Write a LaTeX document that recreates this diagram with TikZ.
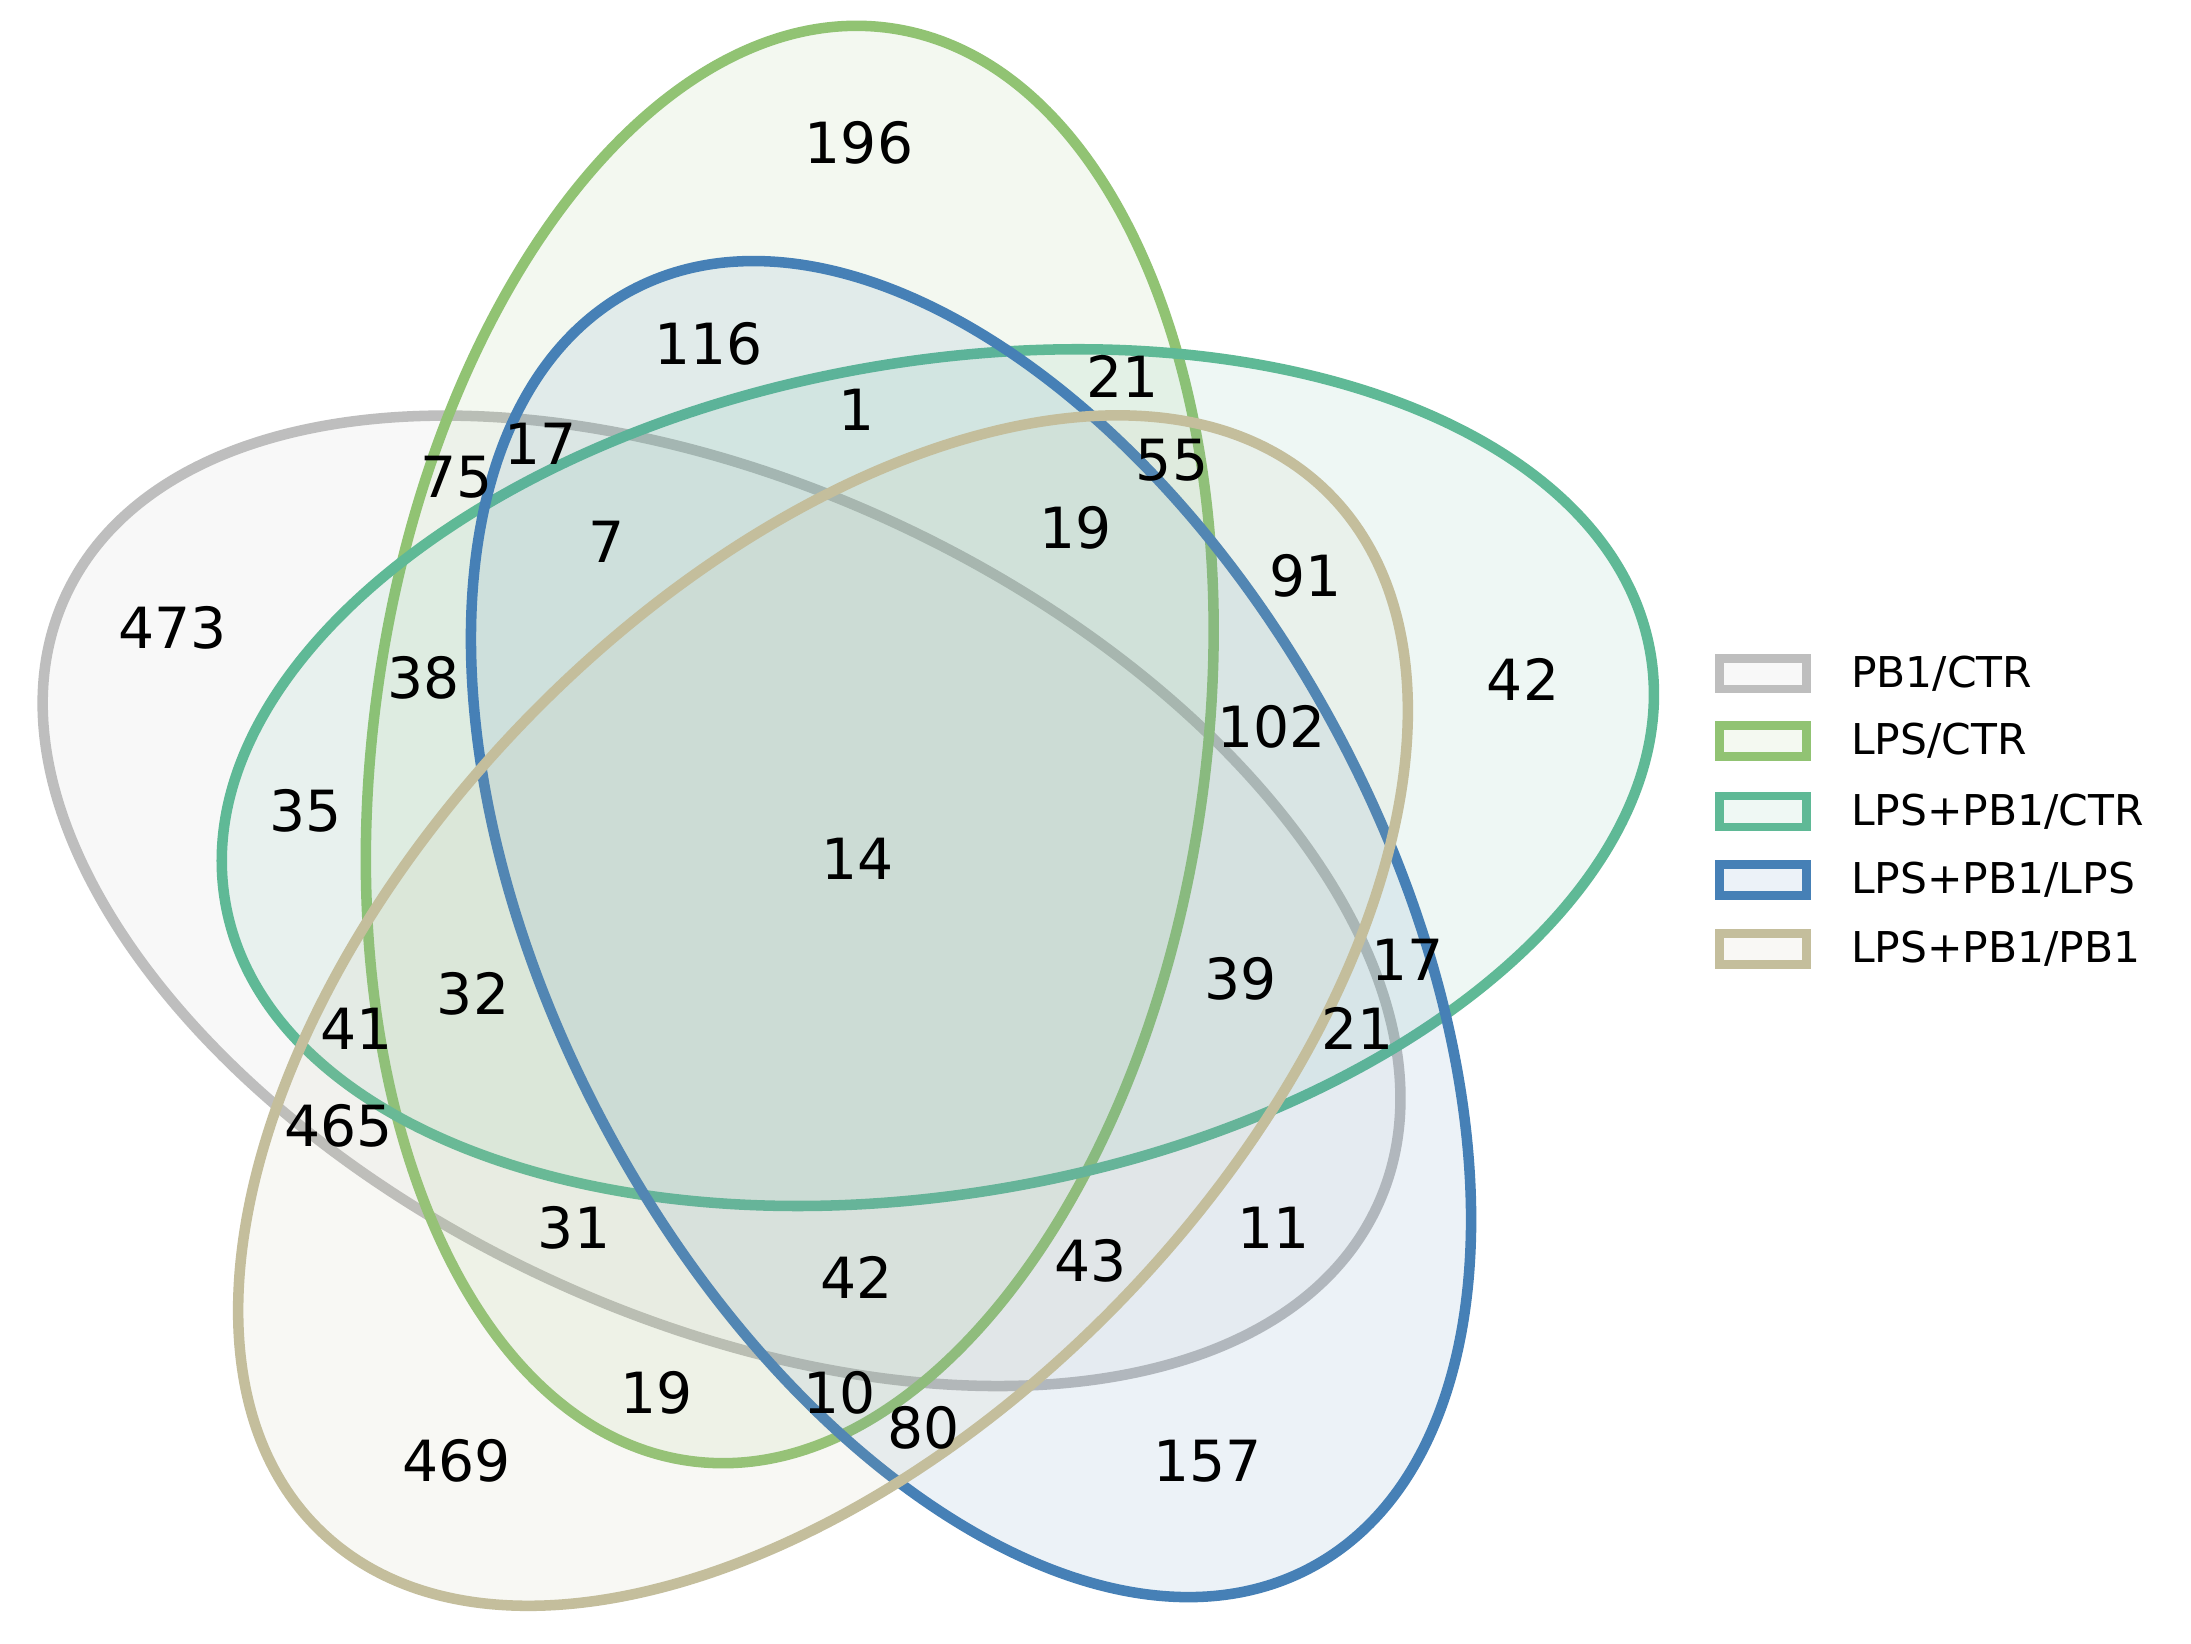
\documentclass[tikz,border=0pt]{standalone}
\usepackage{fontspec}
\setmainfont{DejaVu Sans}
\definecolor{cgray}{RGB}{190,190,190}
\definecolor{cgreen}{RGB}{145,195,115}
\definecolor{cteal}{RGB}{95,185,150}
\definecolor{cblue}{RGB}{70,128,182}
\definecolor{ctan}{RGB}{196,190,156}
\begin{document}
\begin{tikzpicture}[
  ell/.style={line width=0.075cm, fill opacity=0.1, draw opacity=1},
  num/.style={font=\fontsize{11.5}{13}\selectfont, inner sep=0pt},
  leg/.style={font=\fontsize{8.6}{10}\selectfont, anchor=west, inner sep=0pt},
  legbox/.style={line width=0.06cm, minimum width=0.62cm, minimum height=0.22cm, inner sep=0pt}]
\useasboundingbox (0,-11.7) rectangle (15.6,0);
\fill[white] (0,-11.7) rectangle (15.6,0);
\begin{scope}[shift={(0.07,-11.73)}, x=11.84cm, y=11.84cm]
  \coordinate (g) at (0.428,0.449);
  \coordinate (l) at (0.469,0.543);
  \coordinate (t) at (0.558,0.523);
  \coordinate (b) at (0.578,0.432);
  \coordinate (p) at (0.489,0.383);
  \draw[ell, draw=cgray, fill=cgray, rotate around={155:(g)}] (g) ellipse (0.435 and 0.25);
  \draw[ell, draw=cgreen, fill=cgreen, rotate around={82:(l)}] (l) ellipse (0.435 and 0.25);
  \draw[ell, draw=cteal, fill=cteal, rotate around={10:(t)}] (t) ellipse (0.435 and 0.25);
  \draw[ell, draw=cblue, fill=cblue, rotate around={118:(b)}] (b) ellipse (0.435 and 0.25);
  \draw[ell, draw=ctan, fill=ctan, rotate around={46:(p)}] (p) ellipse (0.435 and 0.25);
\end{scope}
\begin{scope}[x=0.01cm, y=-0.01cm]
  \node[num] (n1) at (612,102) {196};
  \node[num] (n2) at (505,245) {116};
  \node[num] (n3) at (800,268) {21};
  \node[num] (n4) at (610,292) {1};
  \node[num] (n5) at (385,316) {17};
  \node[num] (n6) at (325,340) {75};
  \node[num] (n7) at (835,328) {55};
  \node[num] (n8) at (432,386) {7};
  \node[num] (n9) at (766,376) {19};
  \node[num] (n10) at (930,410) {91};
  \node[num] (n11) at (123,447) {473};
  \node[num] (n12) at (302,483) {38};
  \node[num] (n13) at (1085,484) {42};
  \node[num] (n14) at (906,518) {102};
  \node[num] (n15) at (218,578) {35};
  \node[num] (n16) at (611,612) {14};
  \node[num] (n17) at (884,697) {39};
  \node[num] (n18) at (1003,684) {17};
  \node[num] (n19) at (337,708) {32};
  \node[num] (n20) at (254,733) {41};
  \node[num] (n21) at (967,733) {21};
  \node[num] (n22) at (241,802) {465};
  \node[num] (n23) at (409,875) {31};
  \node[num] (n24) at (907,875) {11};
  \node[num] (n25) at (610,910) {42};
  \node[num] (n26) at (777,898) {43};
  \node[num] (n27) at (468,992) {19};
  \node[num] (n28) at (598,992) {10};
  \node[num] (n29) at (658,1017) {80};
  \node[num] (n30) at (325,1041) {469};
  \node[num] (n31) at (860,1041) {157};
  \node[legbox, draw=cgray, fill=cgray!10] (k1) at (1256,480) {};
  \node[legbox, draw=cgreen, fill=cgreen!10] (k2) at (1256,528) {};
  \node[legbox, draw=cteal, fill=cteal!10] (k3) at (1256,578) {};
  \node[legbox, draw=cblue, fill=cblue!10] (k4) at (1256,627) {};
  \node[legbox, draw=ctan, fill=ctan!10] (k5) at (1256,676) {};
  \node[leg] (t1) at (1318,480) {PB1/CTR};
  \node[leg] (t2) at (1318,528) {LPS/CTR};
  \node[leg] (t3) at (1318,578) {LPS+PB1/CTR};
  \node[leg] (t4) at (1318,627) {LPS+PB1/LPS};
  \node[leg] (t5) at (1318,676) {LPS+PB1/PB1};
\end{scope}
\end{tikzpicture}
\end{document}
